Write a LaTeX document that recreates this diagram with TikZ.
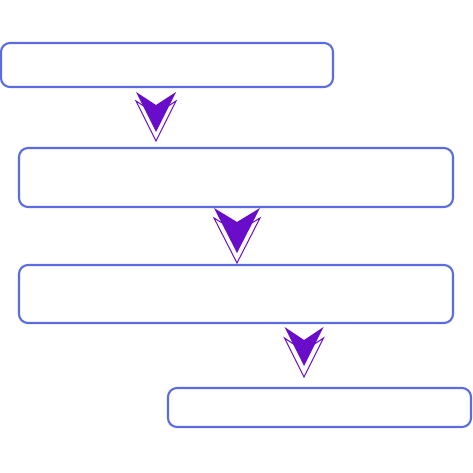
\documentclass[tikz,border=0pt]{standalone}
\begin{document}
\begin{tikzpicture}[x=1pt,y=-1pt,
  box/.style={draw=boxblue,line width=2.1pt,rounded corners=9pt,fill=white},
  pics/dblarrow/.style n args={4}{code={
    % #1 width, #2 height, #3 notch, #4 offset
    \draw[draw=arrviolet,line width=1pt,fill=white] (-#1/2,#4) -- (0,#2+#4) -- (#1/2,#4) -- (0,#3+#4) -- cycle;
    \fill[arrviolet] (-#1/2,0) -- (0,#2) -- (#1/2,0) -- (0,#3) -- cycle;
  }}]
\definecolor{boxblue}{HTML}{5B6CE0}
\definecolor{arrviolet}{HTML}{6A0DCB}
\useasboundingbox (0,0) rectangle (473,473);
\fill[white] (0,0) rectangle (473,473);
\draw[box] (1,43) rectangle (333,87);
\node[inner sep=0] (b1) at (167,65) {};
\draw[box] (19,148) rectangle (453,207);
\node[inner sep=0] (b2) at (236,177.5) {};
\draw[box] (19,265) rectangle (453,323);
\node[inner sep=0] (b3) at (236,294) {};
\draw[box] (168,388) rectangle (471,427);
\node[inner sep=0] (b4) at (319.5,407.5) {};
\coordinate (a1) at (156,92);
\coordinate (a2) at (237,208);
\coordinate (a3) at (304,327);
\pic at (a1) {dblarrow={40}{40}{13}{9}};
\pic at (a2) {dblarrow={46}{45}{14}{10}};
\pic at (a3) {dblarrow={39}{39}{13}{11}};
\end{tikzpicture}
\end{document}
